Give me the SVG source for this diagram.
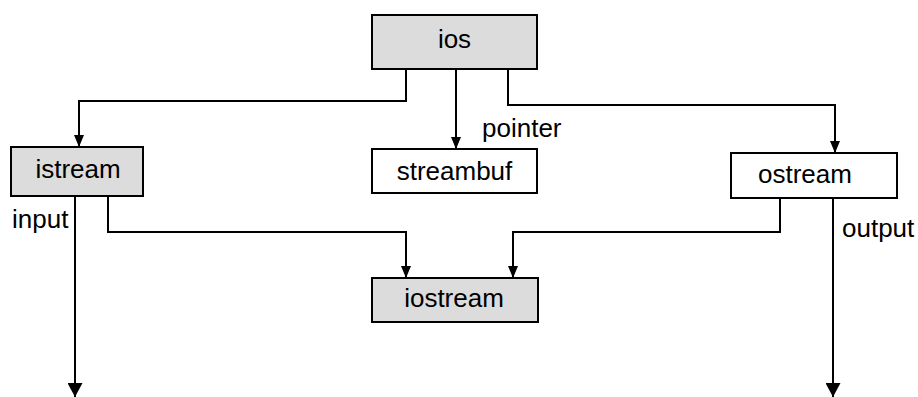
<svg xmlns="http://www.w3.org/2000/svg" width="918" height="397" viewBox="0 0 918 397">
<defs>
<style>
.box{stroke:#000;stroke-width:2}
.gray{fill:#dcdcdc}
.white{fill:#fff}
text{font-family:"Liberation Sans",Arial,sans-serif;font-size:26px;fill:#000}
.c{text-anchor:middle}
.ln{fill:none;stroke:#000;stroke-width:2}
</style>
<marker id="ah" markerWidth="12" markerHeight="10" refX="12" refY="5" orient="auto" markerUnits="userSpaceOnUse" viewBox="0 0 12 10">
<path d="M0,0 L12,5 L0,10 Z" fill="#000"/>
</marker>
<marker id="ahb" markerWidth="14" markerHeight="15" refX="14" refY="7.5" orient="auto" markerUnits="userSpaceOnUse" viewBox="0 0 14 15">
<path d="M0,0 L14,7.5 L0,15 Z" fill="#000"/>
</marker>
</defs>
<rect width="918" height="397" fill="#fff"/>
<g id="connectors">
<polyline class="ln" points="406,69 406,101 79,101 79,147" marker-end="url(#ah)"/>
<polyline class="ln" points="456,69 456,149" marker-end="url(#ah)"/>
<polyline class="ln" points="508,69 508,105 835,105 835,153" marker-end="url(#ah)"/>
<polyline class="ln" points="108,196 108,232 406,232 406,278" marker-end="url(#ah)"/>
<polyline class="ln" points="780,198 780,232 513,232 513,278" marker-end="url(#ah)"/>
<polyline class="ln" points="75,196 75,397" marker-end="url(#ahb)"/>
<polyline class="ln" points="833,198 833,397" marker-end="url(#ahb)"/>
<text x="482" y="137">pointer</text>
<text x="12" y="228">input</text>
<text x="842" y="237">output</text>
</g>
<g id="ios">
<rect class="box gray" x="372" y="15" width="165" height="54"/>
<text class="c" x="454.5" y="48">ios</text>
</g>
<g id="streambuf">
<rect class="box white" x="372" y="149" width="165" height="44"/>
<text class="c" x="454.5" y="180">streambuf</text>
</g>
<g id="istream">
<rect class="box gray" x="11" y="147" width="132" height="49"/>
<text class="c" x="78" y="178">istream</text>
</g>
<g id="ostream">
<rect class="box white" x="731" y="153" width="166" height="45"/>
<text x="758" y="183">ostream</text>
</g>
<g id="iostream">
<rect class="box gray" x="372" y="278" width="166" height="44"/>
<text class="c" x="454" y="307">iostream</text>
</g>
</svg>
